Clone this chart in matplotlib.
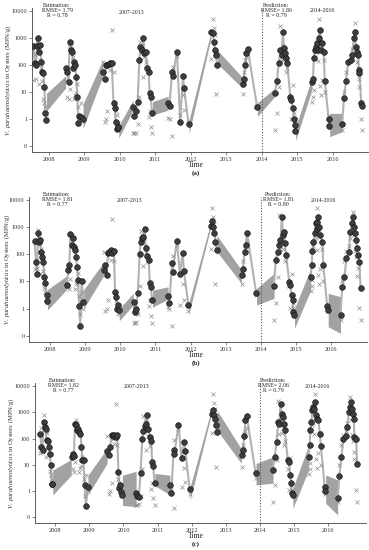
import numpy as np
import matplotlib
matplotlib.use('Agg')
import matplotlib.pyplot as plt

plt.rcParams['font.family'] = ['Liberation Serif', 'DejaVu Serif']
plt.rcParams['mathtext.fontset'] = 'custom'
plt.rcParams['mathtext.it'] = 'Liberation Serif:italic'
plt.rcParams['mathtext.rm'] = 'Liberation Serif'

# sampling dates (decimal year), one row per season
t = [2007.56, 2007.60, 2007.63, 2007.66, 2007.69, 2007.72, 2007.75, 2007.78, 2007.81, 2007.84, 2007.87, 2007.90, 2007.92,
     2008.48, 2008.52, 2008.55, 2008.58, 2008.62, 2008.65, 2008.68, 2008.71, 2008.74, 2008.77, 2008.80, 2008.83, 2008.86, 2008.90, 2008.95,
     2009.53, 2009.57, 2009.61, 2009.65, 2009.69, 2009.73, 2009.77, 2009.82, 2009.85, 2009.88, 2009.91, 2009.94, 2009.96,
     2010.38, 2010.41, 2010.45, 2010.50, 2010.55, 2010.58, 2010.62, 2010.66, 2010.69, 2010.73, 2010.77, 2010.81, 2010.84, 2010.87, 2010.91,
     2011.37, 2011.40, 2011.47, 2011.49, 2011.61, 2011.70, 2011.78, 2011.81, 2011.94,
     2012.58, 2012.62, 2012.65, 2012.68, 2012.71, 2012.74,
     2013.46, 2013.49, 2013.54, 2013.57, 2013.61, 2013.87,
     2014.37, 2014.43, 2014.48, 2014.53, 2014.56, 2014.60, 2014.63, 2014.66, 2014.69, 2014.72, 2014.81, 2014.84, 2014.88, 2014.91, 2014.93, 2014.95,
     2015.42, 2015.45, 2015.47, 2015.50, 2015.53, 2015.56, 2015.59, 2015.61, 2015.64, 2015.67, 2015.70, 2015.75, 2015.78, 2015.89, 2015.91,
     2016.27, 2016.32, 2016.38, 2016.44, 2016.51, 2016.55, 2016.60, 2016.63, 2016.66, 2016.69, 2016.72, 2016.74, 2016.76, 2016.81, 2016.84]

# observed log10(MPN/g), "0" on the axis sits at -1
obs = [1.45, 2.4, 1.5, 2.9, 2.6, 1.28, 2.2, 1.9, 1.4, 0.75, 0.6, 0.45, 0.2,
       1.45, 0.83, 0.73, 1.1, 2.7, 2.6, 2.3, 0.73, 0.89, 0.95, 1.3, 0.46, -0.2, 0.6, 0.0,
       2.1, -0.1, 0.0, 0.3, 2.0, 1.8, 3.3, 1.75, 0.45, 0.3, 0.15, -0.15, -0.2,
       -0.53, -0.53, -0.5, -0.19, 0.83, 2.86, 2.7, 1.57, 2.3, 2.1, 1.7, 0.09, 0.3, -0.28, -0.53,
       0.05, 0.0, -0.63, 1.94, 2.35, 0.15, 0.89, 0.33, -0.1,
       2.21, 3.69, 3.36, 3.11, 0.91, 2.4,
       0.91, 1.75, 2.19, 2.3, 2.4, 0.5,
       -0.41, 0.21, 1.17, 3.44, 2.19, 2.7, 2.21, 2.4, 1.75, 1.9, 0.83, 0.02, 1.26, 0.21, 0.02, -0.2,
       0.64, 0.83, 1.07, 2.3, 2.5, 2.6, 2.16, 3.69, 1.22, 0.89, 1.44, 2.2, 1.0, 0.1, -0.1,
       -0.41, 1.0, 1.75, 2.12, 2.3, 2.6, 3.0, 3.57, 2.7, 2.12, 1.9, 1.2, 1.5, 0.02, -0.41]

# model predictions for the three panels
pred_a = [2.72, 2.06, 2.0, 2.72, 3.01, 2.49, 2.74, 2.12, 1.75, 1.72, 1.18, 0.22, -0.04,
          1.88, 1.75, 1.38, 2.86, 2.56, 2.49, 1.88, 2.12, 2.0, 1.57, 0.83, -0.16, 0.11, 0.06, 0.02,
          1.75, 1.5, 2.0, 2.0, 2.05, 2.06, 2.09, 0.58, 0.4, -0.1, -0.35, -0.3, -0.28,
          0.46, 0.12, 0.3, 0.64, 2.19, 2.68, 2.56, 3.01, 2.43, 2.49, 1.88, 1.75, 0.95, 0.8, 0.21,
          0.58, 0.48, 1.75, 1.59, 2.49, -0.1, 1.6, 1.14, -0.19,
          3.21, 3.17, 2.86, 2.56, 2.37, 2.0,
          1.3, 1.48, 2.0, 2.43, 2.58, 0.46,
          0.95, 1.41, 2.06, 2.56, 2.37, 3.23, 2.62, 2.43, 2.25, 2.06, 0.83, 0.7, 0.4, -0.01, -0.22, -0.44,
          1.38, 1.5, 2.25, 2.56, 2.68, 2.83, 2.56, 3.01, 3.3, 2.56, 2.8, 2.49, 1.41, -0.01, -0.26,
          -0.2, 0.77, 1.41, 2.12, 2.19, 2.37, 2.99, 3.23, 2.68, 2.49, 2.37, 1.81, 1.69, 0.58, 0.48]
pred_b = [2.50, 1.73, 1.27, 2.77, 2.46, 2.53, 2.10, 1.89, 1.73, 1.17, 0.95, 0.50, 0.28,
          0.87, 1.42, 1.6, 2.75, 2.34, 2.59, 2.28, 2.16, 1.91, 1.52, 1.05, 0.1, -0.63, 1.03, 0.25,
          1.42, 1.6, 1.23, 2.03, 2.09, 2.16, 2.06, 2.12, 0.62, 0.44, 0.0, 0.13, -0.05,
          0.25, -0.12, 0.0, 0.56, 2.0, 2.46, 2.59, 2.65, 2.92, 2.22, 1.94, 1.79, 0.93, 0.78, 0.31,
          0.46, 0.19, 1.67, 1.36, 2.5, 1.27, 2.06, 1.4, 0.13,
          3.04, 3.24, 3.02, 2.8, 2.46, 2.16,
          1.24, 1.44, 2.1, 2.34, 2.77, 0.56,
          0.83, 1.79, 2.1, 2.34, 2.53, 3.39, 2.71, 2.83, 2.4, 1.97, 0.99, 0.87, 0.5, 0.3, -0.12, -0.24,
          1.17, 1.6, 2.13, 2.46, 2.77, 3.14, 2.92, 3.2, 3.39, 3.02, 2.71, 2.46, 1.6, 0.1, -0.05,
          -0.24, 0.81, 1.15, 1.85, 2.1, 2.83, 3.14, 3.39, 3.02, 2.8, 2.53, 2.22, 1.97, 1.73, 0.74]
pred_c = [2.19, 1.66, 1.56, 2.63, 2.44, 2.38, 1.94, 1.91, 1.66, 1.41, 0.99, 0.27, 0.25,
          1.3, 1.41, 1.35, 2.54, 2.51, 2.32, 2.38, 2.25, 2.19, 1.68, 1.18, 1.18, 0.23, -0.56, 0.16,
          1.53, 1.37, 1.68, 2.13, 2.09, 2.13, 2.06, 2.13, 0.71, 0.1, 0.23, -0.03, -0.15,
          -0.09, -0.19, -0.22, 0.67, 2.0, 2.29, 2.47, 2.57, 2.89, 2.38, 2.06, 1.91, 1.11, 0.95, 0.29,
          0.23, -0.09, 1.56, 1.41, 2.53, 1.24, 1.87, 1.53, 0.06,
          2.95, 3.1, 2.89, 2.76, 2.51, 2.25,
          1.37, 1.56, 2.09, 2.7, 2.85, 0.67,
          0.8, 1.3, 1.87, 2.63, 2.57, 3.33, 2.95, 2.82, 2.57, 2.32, 1.18, 1.11, 0.61, 0.3, -0.09, -0.15,
          1.3, 1.75, 2.32, 2.63, 3.08, 3.2, 3.14, 3.39, 2.89, 2.76, 2.72, 2.19, 1.7, 0.16, 0.01,
          -0.28, 0.57, 1.3, 2.0, 2.09, 2.44, 3.01, 3.2, 3.39, 3.14, 2.95, 2.76, 2.06, 2.0, 1.03]

# interval bands over the winter gaps: (lo start, hi start, lo end, hi end)
gap_start = [2007.93, 2008.96, 2009.97, 2010.92, 2011.95, 2012.75, 2013.88, 2014.96, 2015.92]
gap_end = [2008.47, 2009.52, 2010.37, 2011.36, 2012.57, 2013.45, 2014.38, 2015.42, 2016.27]
band_a = [(0.3, 0.95, 1.15, 1.6), (-0.35, 0.55, 1.6, 2.2), (-0.7, -0.25, 0.33, 0.7),
          (0.15, 0.64, 0.33, 0.85), (-0.55, -0.05, 3.0, 3.25), (2.05, 2.55, 1.15, 1.55),
          (0.1, 0.6, 0.85, 1.15), (-0.8, -0.3, 1.1, 1.55), (-0.65, 0.21, -0.47, 0.21)]
band_b = [(-0.05, 0.7, 0.7, 1.2), (0.0, 0.7, 1.2, 1.7), (-0.45, 0.0, 0.13, 0.56),
          (0.05, 0.68, 0.35, 0.8), (-0.2, 0.2, 2.95, 3.15), (2.1, 2.7, 0.93, 1.42),
          (0.13, 0.74, 0.38, 1.3), (-0.73, 0.0, 0.68, 1.48), (-0.67, 0.56, -0.91, 0.44)]
band_c = [(-0.15, 0.8, 0.6, 1.2), (-0.15, 0.6, 1.05, 1.62), (-0.55, 0.6, -0.6, 0.75),
          (0.2, 0.67, -0.15, 0.6), (-0.35, 0.15, 2.9, 3.1), (2.3, 3.05, 1.05, 1.6),
          (0.23, 1.05, 0.3, 1.3), (-0.66, 0.1, 0.8, 1.75), (-0.47, 0.61, -0.91, 0.42)]

stats = [("1.79", "0.78", "1.86", "0.79"), ("1.81", "0.77", "1.81", "0.80"), ("1.82", "0.77", "2.06", "0.79")]
tags = ["(a)", "(b)", "(c)"]
ytick_vals = [-1, 0, 1, 2, 3, 4]
ytick_labels = ["0", "1", "10", "100", "1000", "10000"]
years = list(range(2008, 2017))

W, H = 369, 550
fig = plt.figure(figsize=(W / 100, H / 100), dpi=100)

# pixel boxes (left, top, right, bottom), x-limits and text anchors per panel
boxes = [(32, 8.3, 368, 152), (29.3, 197.3, 366.5, 341.7), (35, 383.4, 366, 523)]
xlims = [(2007.52, 2017.0), (2007.41, 2017.01), (2007.41, 2017.1)]
text_y = [3, 192, 378]
est_x = [57, 57, 63]
pred_x = [276, 278, 273]
per1_x = [132, 130, 137]
per2_x = [322, 323, 317]
ylab_x = [13, 12, 16]

t_arr = np.array(t)
breaks = np.where(np.diff(t_arr) > 0.3)[0] + 1
segments = np.split(np.arange(len(t)), breaks)

for i, (pred, band) in enumerate(zip([pred_a, pred_b, pred_c], [band_a, band_b, band_c])):
    l, top, r, b = boxes[i]
    ax = fig.add_axes([l / W, 1 - b / H, (r - l) / W, (b - top) / H])
    p = np.array(pred)

    for t0, t1, (lo0, hi0, lo1, hi1) in zip(gap_start, gap_end, band):
        ax.fill_between([t0, t1], [lo0, lo1], [hi0, hi1], color='#a2a2a2', lw=0, zorder=1)
    for seg in segments:
        ax.plot(t_arr[seg], p[seg], color='#b3b3b3', lw=1.5, zorder=2)
    ax.scatter(t, obs, marker='x', s=8, c='#8c8c8c', linewidths=0.5, zorder=3)
    ax.scatter(t, pred, s=17, c='#3d3d3d', edgecolors='#111111', linewidths=0.4, zorder=4)
    ax.axvline(2014.0, ls=(0, (1, 1.5)), color='#555555', lw=0.8, zorder=5)

    ax.set_xlim(*xlims[i])
    ax.set_ylim(-1.22, 4.1)
    ax.set_yticks(ytick_vals)
    ax.set_yticklabels(ytick_labels)
    ax.set_xticks(years)
    ax.set_xticklabels([str(y) for y in years])
    ax.tick_params(length=2, width=0.5, labelsize=4.5, pad=1.5, color='#555555', labelcolor='#333333')
    for side in ['top', 'right']:
        ax.spines[side].set_visible(False)
    for side in ['left', 'bottom']:
        ax.spines[side].set_linewidth(0.6)
        ax.spines[side].set_color('#444444')
    ax.set_facecolor('none')

    ax.set_ylabel(r'$\mathit{V.\ parahaemolyticus}$ in Oysters (MPN/g)', fontsize=4.8, color='#333333')
    ax.yaxis.set_label_coords((ylab_x[i] - l) / (r - l), 0.5)

    rm1, r1, rm2, r2 = stats[i]
    ty = text_y[i]
    fig.text(est_x[i] / W, 1 - ty / H, "Estimation:\nRMSE= %s\nR = %s" % (rm1, r1),
             ha='center', va='top', fontsize=4.2, linespacing=1.05, color='#222222')
    fig.text(pred_x[i] / W, 1 - ty / H, "Prediction:\nRMSE= %s\nR = %s" % (rm2, r2),
             ha='center', va='top', fontsize=4.2, linespacing=1.05, color='#222222')
    fig.text(per1_x[i] / W, 1 - (ty + 9) / H, "2007-2013", ha='center', va='center', fontsize=4.2, color='#222222')
    fig.text(per2_x[i] / W, 1 - (ty + 8) / H, "2014-2016", ha='center', va='center', fontsize=4.2, color='#222222')

    fig.text(196 / W, 1 - (b + 13) / H, "Time", ha='center', va='center', fontsize=5.5, color='#222222')
    fig.text(196 / W, 1 - (b + 21) / H, tags[i], ha='center', va='center', fontsize=5, fontweight='bold', color='#222222')

fig.savefig('out.png', dpi=100)
